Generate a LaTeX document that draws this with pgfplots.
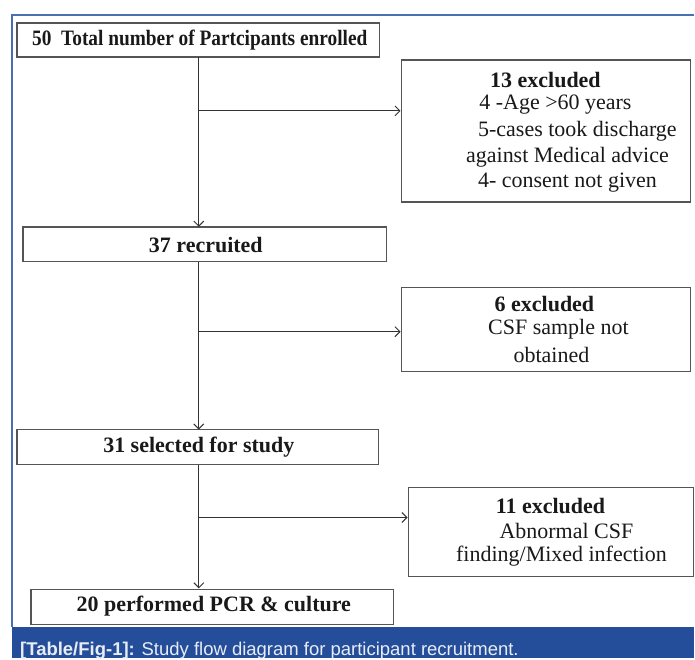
\documentclass[border=0pt]{standalone}
\usepackage{pgfplots}
\pgfplotsset{compat=1.18}
\usetikzlibrary{arrows.meta}
\usepackage{fontspec}
\setmainfont{Liberation Serif}
\newfontfamily\capfont{Liberation Sans}
\definecolor{framblue}{HTML}{4A6FB5}
\definecolor{bandblue}{HTML}{244E9A}
\definecolor{boxgray}{HTML}{555555}
\definecolor{capwhite}{HTML}{E8ECF5}
\begin{document}
\begin{tikzpicture}
\begin{axis}[
  x=1pt, y=1pt, scale only axis,
  xmin=0, xmax=695, ymin=0, ymax=659, y dir=reverse,
  hide axis, clip=false,
]
% background and frame
\addplot[draw=none, fill=white] coordinates {(0,0) (695,0) (695,659) (0,659)} -- cycle;
\addplot[draw=none, fill=bandblue] coordinates {(12,628) (695,628) (695,659) (12,659)} -- cycle;
\addplot[framblue, line width=1.4pt] coordinates {(695,15) (12,15) (12,628)};
% main boxes
\addplot[boxgray, line width=1.5pt] coordinates {(17,23) (380,23) (380,57) (17,57)} -- cycle;
\addplot[boxgray, line width=1.5pt] coordinates {(23,227) (387,227) (387,262) (23,262)} -- cycle;
\addplot[boxgray, line width=1.5pt] coordinates {(17,430) (379,430) (379,465) (17,465)} -- cycle;
\addplot[boxgray, line width=1.5pt] coordinates {(31,590) (394,590) (394,625) (31,625)} -- cycle;
% exclusion boxes
\addplot[boxgray, line width=1.5pt] coordinates {(402,60) (691,60) (691,202) (402,202)} -- cycle;
\addplot[boxgray, line width=1.5pt] coordinates {(402,288) (691,288) (691,372) (402,372)} -- cycle;
\addplot[boxgray, line width=1.5pt] coordinates {(409,488) (694,488) (694,577) (409,577)} -- cycle;
% connector lines
\tikzset{arr/.style={black!80, line width=1pt, -{Straight Barb[length=5pt,width=10pt]}}}
\draw[arr] (axis cs:199,57) -- (axis cs:199,227);
\draw[arr] (axis cs:199,111) -- (axis cs:401,111);
\draw[arr] (axis cs:199,262) -- (axis cs:199,430);
\draw[arr] (axis cs:199,332) -- (axis cs:401,332);
\draw[arr] (axis cs:199,465) -- (axis cs:199,589);
\draw[arr] (axis cs:199,518) -- (axis cs:408,518);
% texts
\tikzset{bt/.style={font=\fontsize{22}{24}\selectfont\bfseries, text=black!90, inner sep=0pt, anchor=center},
         rt/.style={font=\fontsize{22}{24}\selectfont, text=black!90, inner sep=0pt, anchor=center}}
\node[bt, xscale=0.88] at (axis cs:200,40) {50\ \ Total number of Partcipants enrolled};
\node[bt] at (axis cs:206,245) {37 recruited};
\node[bt] at (axis cs:199,448) {31 selected for study};
\node[bt] at (axis cs:214,607) {20 performed PCR \& culture};
\node[bt] at (axis cs:546,80) {13 excluded};
\node[rt] at (axis cs:556,105) {4 -Age >60 years};
\node[rt] at (axis cs:578,131) {5-cases took discharge};
\node[rt] at (axis cs:568,157) {against Medical advice};
\node[rt] at (axis cs:568,183) {4- consent not given};
\node[bt] at (axis cs:545,304) {6 excluded};
\node[rt] at (axis cs:559,330) {CSF sample not};
\node[rt] at (axis cs:552,355) {obtained};
\node[bt] at (axis cs:551,507) {11 excluded};
\node[rt] at (axis cs:567,532) {Abnormal CSF};
\node[rt] at (axis cs:562,557) {finding/Mixed infection};
\node[anchor=base west, inner sep=0pt, text=capwhite, font=\capfont\fontsize{18.5}{20}\selectfont] at (axis cs:20,656) {\textbf{[Table/Fig-1]:} Study flow diagram for participant recruitment.};
\end{axis}
\end{tikzpicture}
\end{document}
